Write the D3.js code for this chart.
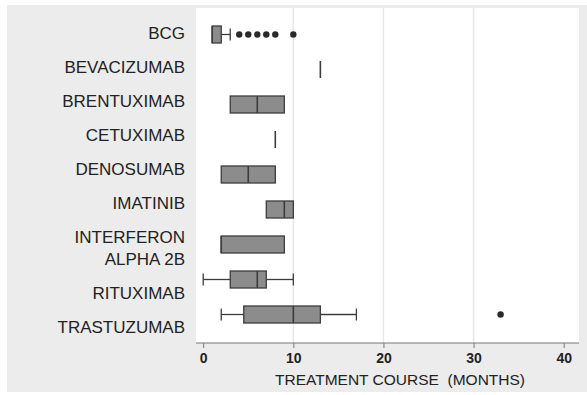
<!DOCTYPE html>
<html>
<head>
<meta charset="utf-8">
<script src="https://cdn.jsdelivr.net/npm/d3@7"></script>
<style>
  body { margin: 0; background: #fff; }
  text { font-family: "Liberation Sans", Arial, sans-serif; fill: #222; }
</style>
</head>
<body>
<script>
// drugs (top to bottom) and their label lines
const drugs = ["BCG", "BEVACIZUMAB", "BRENTUXIMAB", "CETUXIMAB", "DENOSUMAB",
               "IMATINIB", "INTERFERON", "RITUXIMAB", "TRASTUZUMAB"];
const labelLines = [["BCG"], ["BEVACIZUMAB"], ["BRENTUXIMAB"], ["CETUXIMAB"], ["DENOSUMAB"],
                    ["IMATINIB"], ["INTERFERON", "ALPHA 2B"], ["RITUXIMAB"], ["TRASTUZUMAB"]];

// box stats, months
const lowWhisker = [1, 13, 3, 8, 2, 7, 2, 0, 2];
const q1 =         [1, 13, 3, 8, 2, 7, 2, 3, 4.5];
const median =     [1, 13, 6, 8, 5, 9, 2, 6, 10];
const q3 =         [2, 13, 9, 8, 8, 10, 9, 7, 13];
const highWhisker = [3, 13, 9, 8, 8, 10, 9, 10, 17];
const outliers = [[4, 5, 6, 7, 8, 10], [], [], [], [], [], [], [], [33]];

const xTicks = [0, 10, 20, 30, 40];
const gridTicks = [10, 20, 30];

const W = 587, H = 395;
const svg = d3.select("body").append("svg").attr("width", W).attr("height", H);

// grey backdrop + white plot region
svg.append("rect").attr("x", 7).attr("y", 5).attr("width", W - 7).attr("height", H - 8).attr("fill", "#ececec");
const plot = { left: 196, right: 579, top: 8, bottom: 343 };
svg.append("rect").attr("x", plot.left).attr("y", plot.top)
   .attr("width", plot.right - plot.left).attr("height", plot.bottom - plot.top).attr("fill", "#fff");

const x = d3.scaleLinear().domain([-0.8, 41.7]).range([plot.left, plot.right]);
const y = d3.scalePoint().domain(drugs).range([34.5, 314.5]);

// gridlines
svg.append("g").selectAll("line").data(gridTicks).enter().append("line")
   .attr("x1", d => x(d)).attr("x2", d => x(d))
   .attr("y1", plot.top).attr("y2", plot.bottom)
   .attr("stroke", "#e8e8e8").attr("stroke-width", 1.5);

// x axis
const axis = svg.append("g").attr("transform", `translate(0,${plot.bottom})`)
   .call(d3.axisBottom(x).tickValues(xTicks).tickSize(5).tickPadding(5));
axis.select(".domain").attr("stroke", "#777").attr("d", `M${plot.left},0H${plot.right}`);
axis.selectAll(".tick line").attr("stroke", "#777");
axis.selectAll(".tick text").style("font-size", "14px").style("font-weight", "bold").attr("fill", "#333");

svg.append("text").attr("x", 400).attr("y", 385).attr("text-anchor", "middle")
   .style("font-size", "15.5px").style("white-space", "pre")
   .text("TREATMENT COURSE  (MONTHS)");

// category labels: single step between labels, tighter step inside a wrapped label
const labelStep = 34, lineStep = 22;
let ly = 33;
labelLines.forEach(lines => {
  lines.forEach((t, j) => {
    svg.append("text").attr("x", 185).attr("y", ly + j * lineStep).attr("dy", "0.35em")
       .attr("text-anchor", "end").style("font-size", "17px").text(t);
  });
  ly += (lines.length - 1) * lineStep + labelStep;
});

const boxH = 17, capH = 12;
const stroke = "#3c3c3c";
const g = svg.append("g");
drugs.forEach((d, i) => {
  const cy = y(d);
  // whiskers
  if (lowWhisker[i] < q1[i]) {
    g.append("line").attr("x1", x(lowWhisker[i])).attr("x2", x(q1[i])).attr("y1", cy).attr("y2", cy)
     .attr("stroke", stroke).attr("stroke-width", 1.3);
    g.append("line").attr("x1", x(lowWhisker[i])).attr("x2", x(lowWhisker[i]))
     .attr("y1", cy - capH / 2).attr("y2", cy + capH / 2).attr("stroke", stroke).attr("stroke-width", 1.3);
  }
  if (highWhisker[i] > q3[i]) {
    g.append("line").attr("x1", x(q3[i])).attr("x2", x(highWhisker[i])).attr("y1", cy).attr("y2", cy)
     .attr("stroke", stroke).attr("stroke-width", 1.3);
    g.append("line").attr("x1", x(highWhisker[i])).attr("x2", x(highWhisker[i]))
     .attr("y1", cy - capH / 2).attr("y2", cy + capH / 2).attr("stroke", stroke).attr("stroke-width", 1.3);
  }
  // box
  if (q3[i] > q1[i]) {
    g.append("rect").attr("x", x(q1[i])).attr("y", cy - boxH / 2)
     .attr("width", x(q3[i]) - x(q1[i])).attr("height", boxH)
     .attr("fill", "#8c8c8c").attr("stroke", stroke).attr("stroke-width", 1.3);
  }
  // median
  g.append("line").attr("x1", x(median[i])).attr("x2", x(median[i]))
   .attr("y1", cy - boxH / 2).attr("y2", cy + boxH / 2)
   .attr("stroke", stroke).attr("stroke-width", 1.6);
  // outliers
  g.selectAll(null).data(outliers[i]).enter().append("circle")
   .attr("cx", v => x(v)).attr("cy", cy).attr("r", 3.2).attr("fill", "#2a2a2a");
});
</script>
</body>
</html>
